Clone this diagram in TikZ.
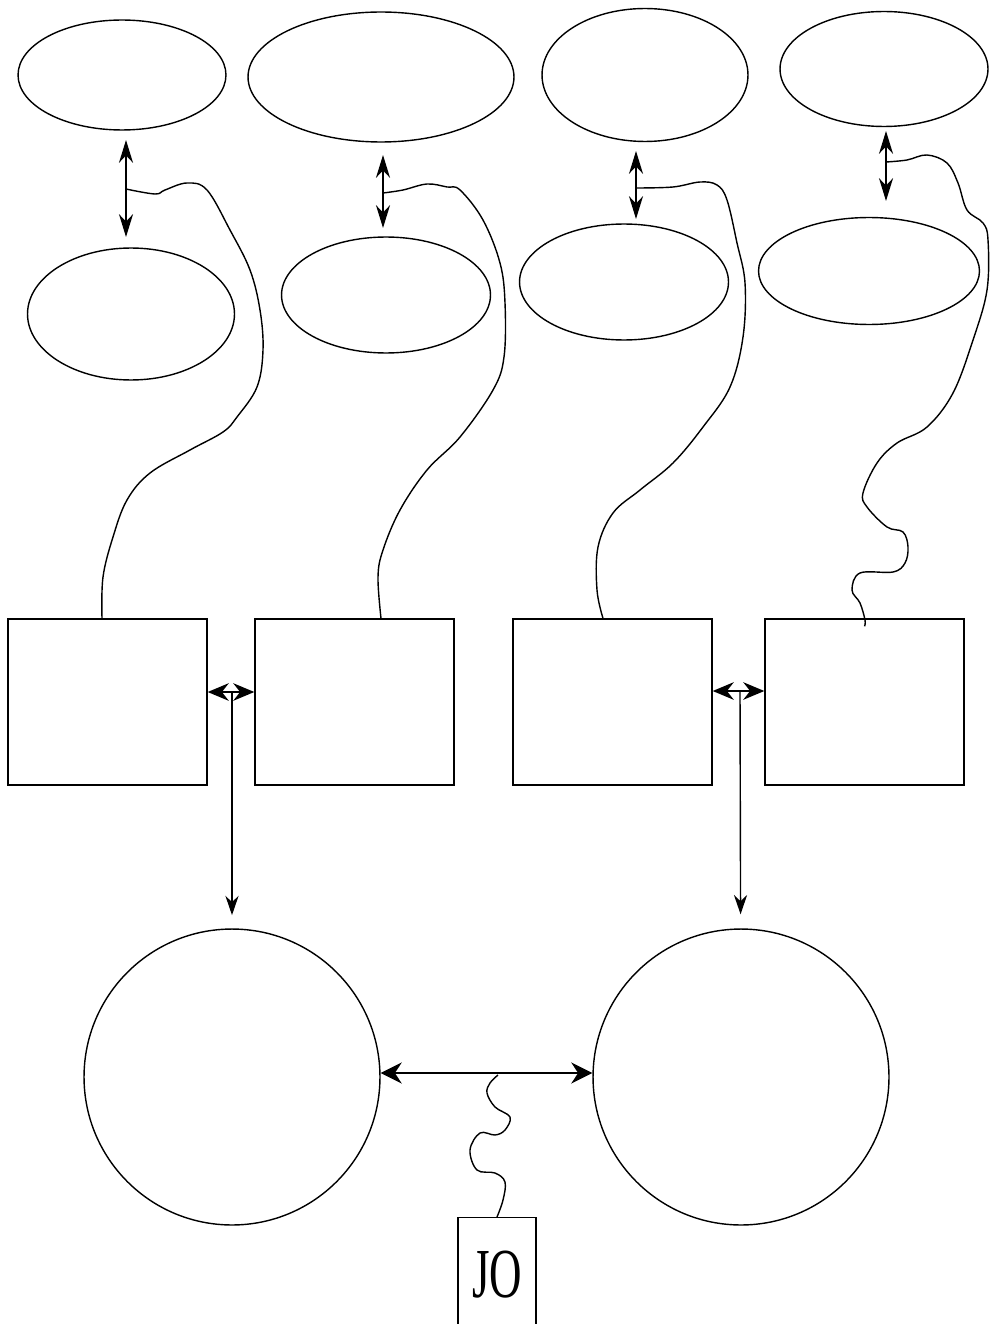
\documentclass[tikz,border=0pt]{standalone}
\usepackage{fontspec}
\setmainfont{Liberation Serif}
\usetikzlibrary{shapes.geometric,arrows.meta}

\begin{document}
\begin{tikzpicture}[x=0.02cm,y=-0.02cm]
        \tikzstyle{every node}=[draw,line width=0.8pt,inner sep=0pt]
        \tikzstyle{oval}=[ellipse]
        \tikzstyle{box}=[rectangle,minimum width=3.98cm,minimum height=3.32cm]
        \tikzstyle{ring}=[circle,minimum size=5.92cm]
        \tikzstyle{vdbl}=[{Stealth[length=13pt,width=8pt]}-{Stealth[length=13pt,width=8pt]},line width=1pt]
        \tikzstyle{hdbl}=[{Stealth[length=12pt,width=10pt]}-{Stealth[length=12pt,width=10pt]},line width=1pt]
        \tikzstyle{cdbl}=[{Stealth[length=12pt,width=12pt]}-{Stealth[length=12pt,width=12pt]},line width=1.1pt]
        \tikzstyle{down}=[-{Stealth[length=11pt,width=7.5pt]},line width=0.8pt]
        \tikzstyle{wig}=[line width=0.8pt,smooth,tension=0.6]
        \useasboundingbox (0,0) rectangle (991,1324);
        \node[oval,minimum width=4.16cm,minimum height=2.2cm] (e1) at (122,75) {};
        \node[oval,minimum width=5.32cm,minimum height=2.6cm] (e2) at (381,77) {};
        \node[oval,minimum width=4.12cm,minimum height=2.66cm] (e3) at (645,75) {};
        \node[oval,minimum width=4.16cm,minimum height=2.3cm] (e4) at (884,69) {};
        \node[oval,minimum width=4.14cm,minimum height=2.64cm] (f1) at (131,314) {};
        \node[oval,minimum width=4.18cm,minimum height=2.32cm] (f2) at (386,295) {};
        \node[oval,minimum width=4.18cm,minimum height=2.32cm] (f3) at (624,282) {};
        \node[oval,minimum width=4.42cm,minimum height=2.14cm] (f4) at (869,271) {};
        \node[box] (r1) at (107.5,702) {};
        \node[box] (r2) at (354.5,702) {};
        \node[box] (r3) at (612.5,702) {};
        \node[box] (r4) at (864.5,702) {};
        \node[ring] (c1) at (232,1077) {};
        \node[ring] (c2) at (741,1077) {};
        \node[anchor=north,minimum width=1.56cm,minimum height=2.28cm,font=\fontsize{40}{44}\selectfont] (jo) at (497,1217) {\scalebox{0.64}[1]{JO}};
        \coordinate (a1t) at (126,140); \coordinate (a1b) at (126,237); \coordinate (w1) at (126,189);
        \coordinate (a2t) at (383,155); \coordinate (a2b) at (383,228); \coordinate (w2) at (383,193);
        \coordinate (a3t) at (636,151); \coordinate (a3b) at (636,219); \coordinate (w3) at (636,188);
        \coordinate (a4t) at (886,131); \coordinate (a4b) at (886,201); \coordinate (w4) at (886,162);
        \coordinate (j1) at (232,692); \coordinate (j2) at (740,691);
        \coordinate (w5) at (498,1075);
        \draw[vdbl] (a1t) -- (a1b);
        \draw[vdbl] (a2t) -- (a2b);
        \draw[vdbl] (a3t) -- (a3b);
        \draw[vdbl] (a4t) -- (a4b);
        \draw[hdbl] (r1.east |- j1) -- (r2.west |- j1);
        \draw[hdbl] (r3.east |- j2) -- (r4.west |- j2);
        \draw[down,shorten >=7.5pt] (j1) -- (c1);
        \draw[down,shorten >=8pt] (j2) -- (c2);
        \draw[cdbl] ([yshift=0.08cm]c1.east) -- ([yshift=0.08cm]c2.west);
        \draw[wig] plot coordinates {(w1) (155,194) (165,190) (187,183) (207,190) (230,230) (250,270) (260,310) (263,350) (257,387) (237,417) (223,432) (190,450) (150,473) (127,500) (113,537) (103,577) ([xshift=-0.11cm]r1.north)};
        \draw[wig] plot coordinates {(w2) (403,190) (427,184) (447,187) (460,190) (483,220) (500,263) (505,303) (504,357) (493,390) (460,437) (427,470) (400,510) (383,550) (378,577) ([xshift=0.53cm]r2.north)};
        \draw[wig] plot coordinates {(w3) (673,187) (700,182) (717,185) (727,200) (737,243) (745,283) (743,337) (730,387) (703,427) (673,463) (640,490) (613,513) (598,547) (597,590) ([xshift=-0.19cm]r3.north)};
        \draw[wig] plot coordinates {(w4) (907,160) (927,155) (947,163) (958,183) (967,210) (983,223) (988,240) (987,290) (973,340) (953,393) (927,427) (897,443) (877,463) (863,493) (867,507) (887,527) (903,532) (908,547) (905,563) (893,572) (860,573) (852,590) (860,603) (865,620) ([yshift=-0.16cm]r4.north)};
        \draw[wig] plot coordinates {(w5) (490,1083) (487,1093) (495,1107) (510,1117) (505,1130) (495,1135) (480,1133) (470,1150) (477,1170) (495,1173) (505,1182) (503,1200) (jo.north)};
    \end{tikzpicture}
\end{document}
